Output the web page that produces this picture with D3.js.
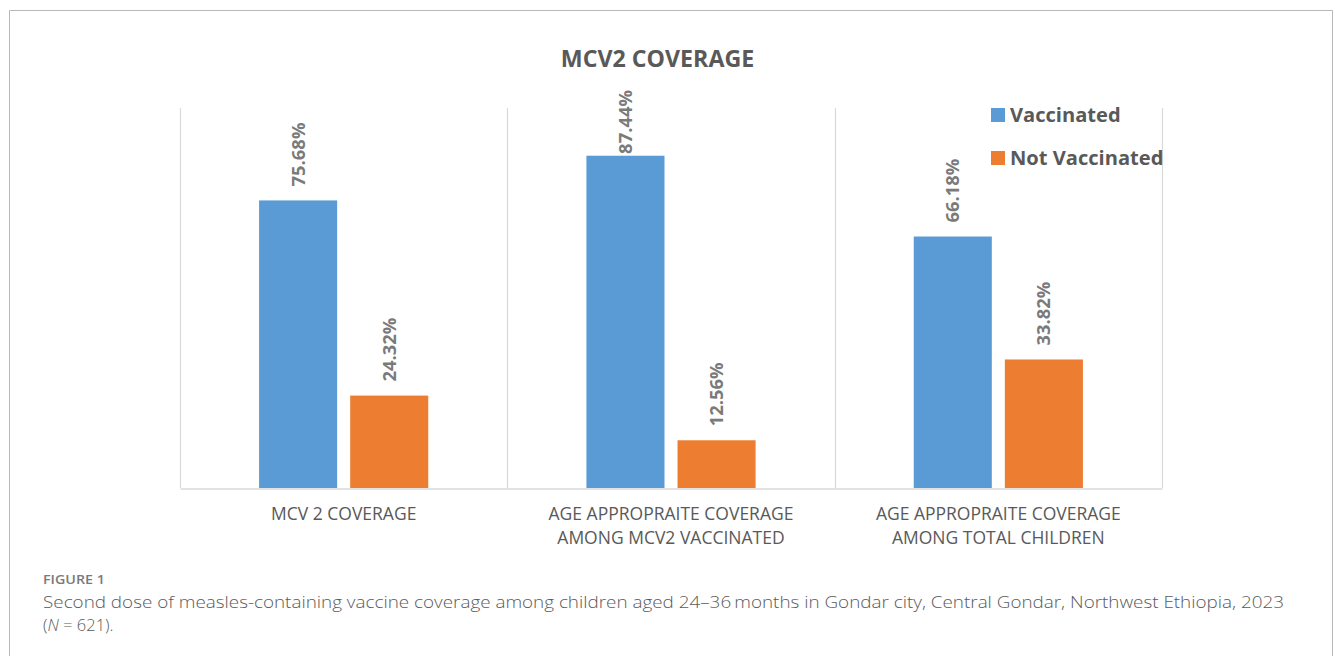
<!DOCTYPE html>
<html>
<head>
<meta charset="utf-8">
<script src="https://cdn.jsdelivr.net/npm/d3@7"></script>
<style>
  html, body { margin: 0; padding: 0; background: #fff; }
  svg { display: block; }
</style>
</head>
<body>
<svg id="chart" width="1335" height="656"></svg>
<script>
// ---- data ----
const categories = [
  ["MCV 2 COVERAGE"],
  ["AGE APPROPRAITE COVERAGE", "AMONG MCV2 VACCINATED"],
  ["AGE APPROPRAITE COVERAGE", "AMONG TOTAL CHILDREN"]
];
const seriesNames = ["Vaccinated", "Not Vaccinated"];
const vaccinated = [75.68, 87.44, 66.18];
const notVaccinated = [24.32, 12.56, 33.82];
const chartTitle = "MCV2 COVERAGE";
const figureLabel = "FIGURE 1";
const captionLine1 = "Second dose of measles-containing vaccine coverage among children aged 24\u201336\u2009months in Gondar city, Central Gondar, Northwest Ethiopia, 2023";

// ---- setup ----
const svg = d3.select("#chart");
const FONT = "'Open Sans', 'DejaVu Sans', sans-serif";
const TEXT = "#595959";
const colors = ["#5B9BD5", "#ED7D31"];
const seriesValues = [vaccinated, notVaccinated];
const catKeys = categories.map((c, i) => "c" + i);

// outer frame
svg.append("path")
  .attr("d", "M9.5,660 V10.5 H1332.5 V660")
  .attr("fill", "none").attr("stroke", "#b8b8b8").attr("stroke-width", 1);

const plot = { left: 180, right: 1162, top: 108, bottom: 488 };

const x0 = d3.scaleBand().domain(catKeys).range([plot.left, plot.right]).paddingInner(0).paddingOuter(0);
const x1 = d3.scaleBand().domain(seriesNames).range([0, x0.bandwidth()]).paddingInner(0.143).paddingOuter(0.868);
const y = d3.scaleLinear().domain([0, 100]).range([plot.bottom, plot.top]);

// gridlines: vertical category separators
const seps = catKeys.map(k => x0(k)).concat([plot.right]);
svg.append("g").selectAll("line").data(seps).join("line")
  .attr("x1", d => Math.round(d) + 0.5).attr("x2", d => Math.round(d) + 0.5)
  .attr("y1", plot.top).attr("y2", plot.bottom)
  .attr("stroke", "#d9d9d9").attr("stroke-width", 1.2);

// baseline axis
const xAxis = d3.axisBottom(x0).tickSize(0).tickFormat(() => "");
const ax = svg.append("g").attr("transform", `translate(0,${plot.bottom + 0.5})`).call(xAxis);
ax.select(".domain").attr("stroke", "#d9d9d9").attr("stroke-width", 1.5);

// bars
const data = [];
catKeys.forEach((k, ci) => seriesNames.forEach((s, si) => data.push({ k, s, si, v: seriesValues[si][ci] })));

svg.append("g").selectAll("rect").data(data).join("rect")
  .attr("x", d => x0(d.k) + x1(d.s))
  .attr("y", d => y(d.v))
  .attr("width", x1.bandwidth())
  .attr("height", d => y(0) - y(d.v))
  .attr("fill", d => colors[d.si]);

// data labels (rotated)
const lbl = svg.append("g").selectAll("text").data(data).join("text")
  .attr("font-family", FONT).attr("font-weight", 700).attr("font-size", 18.4)
  .attr("fill", "#7a7a7a")
  .attr("dy", "0.35em")
  .text(d => d.v.toFixed(2) + "%");
lbl.each(function(d) {
  const len = this.getComputedTextLength();
  const cx = x0(d.k) + x1(d.s) + x1.bandwidth() / 2;
  let end = y(d.v) - 14;
  if (end - len < 90) end = 90 + len;
  d3.select(this).attr("transform", `translate(${cx},${end}) rotate(-90)`).attr("text-anchor", "start");
});

// category labels
catKeys.forEach((k, ci) => {
  const cx = x0(k) + x0.bandwidth() / 2;
  categories[ci].forEach((line, li) => {
    svg.append("text")
      .attr("x", cx).attr("y", 520 + li * 24)
      .attr("text-anchor", "middle")
      .attr("font-family", FONT).attr("font-size", 17.5).attr("fill", TEXT)
      .text(line);
  });
});

// title
svg.append("text")
  .attr("x", 657.5).attr("y", 67).attr("text-anchor", "middle")
  .attr("font-family", FONT).attr("font-weight", 700).attr("font-size", 23.2).attr("fill", TEXT)
  .text(chartTitle);

// legend
const legend = svg.append("g").selectAll("g").data(seriesNames).join("g")
  .attr("transform", (d, i) => `translate(991,${108 + i * 43})`);
legend.append("rect").attr("width", 14).attr("height", 14).attr("fill", (d, i) => colors[i]);
legend.append("text")
  .attr("x", 19).attr("y", 14)
  .attr("font-family", FONT).attr("font-weight", 700).attr("font-size", 20.1).attr("fill", TEXT)
  .text(d => d);

// caption
svg.append("text")
  .attr("x", 43).attr("y", 584)
  .attr("font-family", FONT).attr("font-weight", 600).attr("font-size", 13).attr("fill", "#7a7a7a")
  .attr("textLength", 62).attr("lengthAdjust", "spacingAndGlyphs")
  .text(figureLabel);

svg.append("text")
  .attr("x", 43).attr("y", 608)
  .attr("font-family", FONT).attr("font-weight", 300).attr("font-size", 16.5).attr("fill", "#5a5a5a")
  .attr("textLength", 1241).attr("lengthAdjust", "spacingAndGlyphs")
  .text(captionLine1);

const cap2 = svg.append("text")
  .attr("x", 43).attr("y", 631)
  .attr("font-family", FONT).attr("font-weight", 300).attr("font-size", 16.5).attr("fill", "#5a5a5a");
cap2.append("tspan").text("(");
cap2.append("tspan").attr("font-style", "italic").text("N");
cap2.append("tspan").text(" = 621).");
</script>
</body>
</html>
